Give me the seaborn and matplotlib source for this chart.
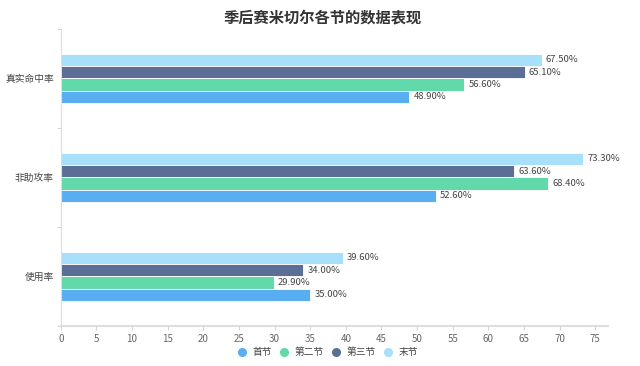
import pandas as pd
import matplotlib
matplotlib.use("Agg")
import matplotlib.pyplot as plt
import seaborn as sns
from matplotlib.lines import Line2D

# 数据
categories = ["真实命中率", "非助攻率", "使用率"]
quarters = ["首节", "第二节", "第三节", "末节"]
q1 = [48.9, 52.6, 35.0]
q2 = [56.6, 68.4, 29.9]
q3 = [65.1, 63.6, 34.0]
q4 = [67.5, 73.3, 39.6]
colors = ["#59adf1", "#62d9aa", "#5b6e96", "#a8dffa"]

rows = []
for q, vals in zip(quarters, [q1, q2, q3, q4]):
    for c, v in zip(categories, vals):
        rows.append({"category": c, "quarter": q, "value": v})
df = pd.DataFrame(rows)

sns.set_theme(style="white")
plt.rcParams["font.family"] = ["Noto Sans CJK SC", "DejaVu Sans"]

fig = plt.figure(figsize=(6.4, 3.66), dpi=100)
ax = fig.add_axes([0.095, 0.110, 0.855, 0.811])

draw_order = quarters[::-1]  # 末节 在上
palette = dict(zip(quarters, colors))
sns.barplot(data=df, y="category", x="value", hue="quarter", order=categories,
            hue_order=draw_order, palette=palette, orient="h", width=0.5,
            edgecolor="white", linewidth=0.6, saturation=1, legend=False, ax=ax)

# 数值标签
for cont in ax.containers:
    ax.bar_label(cont, labels=[f"{w:.2f}%" for w in cont.datavalues],
                 padding=3, fontsize=6.8, color="#444444")

ax.set_xlim(0, 76.8)
ax.set_ylim(2.5, -0.5)
ax.set_xticks(range(0, 80, 5))
ax.set_xlabel("")
ax.set_ylabel("")
ax.tick_params(axis="x", labelsize=7, colors="#666666", length=3, width=0.6,
               color="#cccccc", bottom=True, pad=3)
ax.tick_params(axis="y", labelsize=7, colors="#444444", length=0, pad=5)
ax.set_yticks([-0.5, 0.5, 1.5, 2.5], minor=True)
ax.tick_params(axis="y", which="minor", left=True, length=3, width=0.6, color="#cccccc")

for s in ["top", "right"]:
    ax.spines[s].set_visible(False)
ax.spines["left"].set_color("#dddddd")
ax.spines["left"].set_linewidth(0.8)
ax.spines["bottom"].set_color("#dddddd")
ax.spines["bottom"].set_linewidth(1.5)
ax.grid(False)

fig.suptitle("季后赛米切尔各节的数据表现", x=0.504, y=0.975, fontsize=11,
             fontweight="bold", color="#333333")

handles = [Line2D([0], [0], marker="o", linestyle="", markersize=5.5,
                  markerfacecolor=c, markeredgecolor=c, label=q)
           for q, c in zip(quarters, colors)]
fig.legend(handles=handles, loc="center", bbox_to_anchor=(0.508, 0.038), ncol=4,
           frameon=False, fontsize=7, handletextpad=0.05, columnspacing=0.3,
           labelcolor="#444444")

fig.savefig("out.png", dpi=100)
